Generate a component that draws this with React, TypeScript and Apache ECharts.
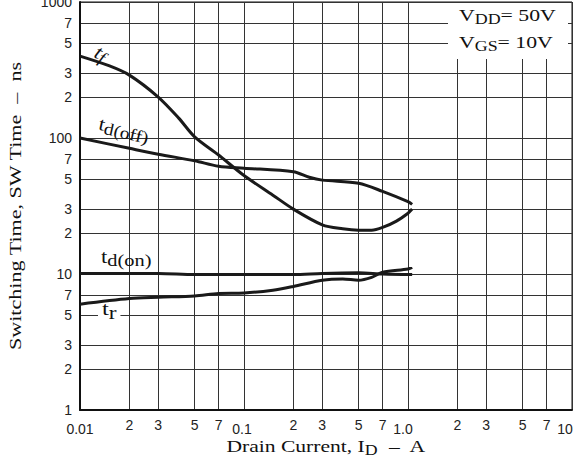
import React, { useEffect, useRef } from "react";
import * as echarts from "echarts";

const xTicks = [0.01, 0.02, 0.03, 0.05, 0.07, 0.1, 0.2, 0.3, 0.5, 0.7, 1, 2, 3, 5, 7, 10];
const yTicks = [1, 2, 3, 5, 7, 10, 20, 30, 50, 70, 100, 200, 300, 500, 700, 1000];
const xDecadeLabels: Record<string, string> = { "-2": "0.01", "-1": "0.1", "0": "1.0", "1": "10" };

const tfX = [0.01, 0.015, 0.02, 0.03, 0.04, 0.05, 0.07, 0.1, 0.15, 0.2, 0.3, 0.4, 0.5, 0.6, 0.7, 0.85, 1.0, 1.06];
const tfY = [400, 340, 290, 200, 140, 102, 75, 53, 38, 30, 23, 21.5, 21, 21, 22, 24.5, 28, 30];

const tdOffX = [0.01, 0.02, 0.03, 0.05, 0.07, 0.1, 0.2, 0.25, 0.3, 0.5, 0.7, 1.0, 1.06];
const tdOffY = [100, 84, 76, 68, 62, 60, 56.5, 51.4, 49, 46.5, 40.5, 34, 32.5];

const tdOnX = [0.01, 0.03, 0.05, 0.1, 0.2, 0.3, 0.5, 0.7, 1.06];
const tdOnY = [10.1, 10.1, 9.9, 9.9, 9.9, 10.1, 10.2, 10.0, 9.9];

const trX = [0.01, 0.02, 0.03, 0.05, 0.07, 0.1, 0.15, 0.2, 0.3, 0.4, 0.5, 0.6, 0.7, 1.0, 1.06];
const trY = [6.0, 6.6, 6.75, 6.9, 7.2, 7.25, 7.6, 8.1, 9.0, 9.2, 9.0, 9.45, 10.3, 10.9, 11.2];

const zip = (xs: number[], ys: number[]) => xs.map((x, i) => [x, ys[i]]);

const exp10 = (v: number) => Math.floor(Math.log10(v) + 1e-9);
const mant = (v: number) => Math.round(v / Math.pow(10, exp10(v)));

const SERIF = "Liberation Serif, Times New Roman, serif";
const SANS = "Liberation Sans, Arial, sans-serif";
const INK = "#111";

const subText = (
  x: number,
  y: number,
  main: string,
  sub: string,
  size: number,
  subSize: number,
  opts: any = {}
) => ({
  type: "text",
  z: opts.z ?? 11,
  x,
  y,
  rotation: opts.rotation ?? 0,
  scaleX: opts.scaleX ?? 1.2,
  style: {
    text: main + "{s|" + sub + "}" + (opts.after ?? ""),
    fontFamily: SERIF,
    fontSize: size,
    fontStyle: opts.italic ? "italic" : "normal",
    fill: INK,
    backgroundColor: opts.bg,
    padding: opts.padding,
    align: opts.align ?? "left",
    verticalAlign: opts.valign ?? "top",
    rich: {
      s: {
        fontFamily: SERIF,
        fontSize: subSize,
        fontStyle: opts.italic ? "italic" : "normal",
        fill: INK,
        padding: [opts.drop ?? 8, 0, 0, 0],
      },
    },
  },
});

// horizontal nudge (px to the left) of each decade label on the x axis
const decadeShift = [0, 2, 5, 7];

export default function App() {
  const ref = useRef<HTMLDivElement>(null);
  useEffect(() => {
    if (!ref.current) return;
    const chart = echarts.init(ref.current, undefined, { renderer: "svg" });
    const lineStyle = { color: "#1a1a1a", width: 3 };
    const mkSeries = (name: string, xs: number[], ys: number[]) => ({
      name,
      type: "line",
      data: zip(xs, ys),
      smooth: 0.3,
      showSymbol: false,
      symbol: "none",
      lineStyle,
      z: 5,
    });
    const richX: any = {};
    decadeShift.forEach((s, i) => {
      richX["d" + i] = { fontFamily: SANS, fontSize: 14, color: "#222", padding: [4, 0, 0, 0] };
      richX["g" + i] = { fontFamily: SANS, fontSize: 14, width: Math.max(1, s * 2), color: "rgba(0,0,0,0)" };
    });
    chart.setOption({
      animation: false,
      backgroundColor: "#ffffff",
      grid: {
        left: 80,
        right: 11,
        top: 2,
        bottom: 51,
        show: true,
        borderColor: INK,
        borderWidth: 1,
        backgroundColor: "transparent",
        outerBoundsMode: "none",
        containLabel: false,
      },
      xAxis: {
        type: "log",
        logBase: 10,
        min: 0.01,
        max: 10,
        axisLine: { show: true, lineStyle: { color: INK, width: 2 } },
        axisTick: { show: false, customValues: xTicks },
        axisLabel: {
          customValues: xTicks,
          margin: 8,
          fontFamily: SANS,
          fontSize: 14,
          color: "#222",
          formatter: (v: number) => {
            const m = mant(v);
            if (m === 1) {
              const e = exp10(v);
              const i = e + 2;
              const lbl = "{d" + i + "|" + xDecadeLabels[String(e)] + "}";
              return decadeShift[i] > 0 ? lbl + "{g" + i + "| }" : lbl;
            }
            return String(m);
          },
          rich: richX,
        },
        splitLine: { show: true, lineStyle: { color: "#333", width: 1 } },
      },
      yAxis: {
        type: "log",
        logBase: 10,
        min: 1,
        max: 1000,
        axisLine: { show: true, lineStyle: { color: INK, width: 2 } },
        axisTick: { show: false, customValues: yTicks },
        axisLabel: {
          customValues: yTicks,
          margin: 8,
          fontFamily: SANS,
          fontSize: 14,
          color: "#222",
          formatter: (v: number) => {
            const m = mant(v);
            if (m === 1) return String(Math.round(v));
            return String(m);
          },
        },
        splitLine: { show: true, lineStyle: { color: "#333", width: 1 } },
      },
      graphic: [
        {
          type: "text",
          z: 11,
          x: 326,
          y: 446,
          scaleX: 1.27,
          style: {
            text: "Drain Current, I{s|D}  –  A",
            fontFamily: SERIF,
            fontSize: 17,
            fill: INK,
            align: "center",
            verticalAlign: "middle",
            rich: { s: { fontFamily: SERIF, fontSize: 14, fill: INK, padding: [9, 0, 0, 0] } },
          },
        },
        {
          type: "text",
          z: 11,
          x: 15,
          y: 206,
          rotation: Math.PI / 2,
          scaleX: 1.3,
          style: {
            text: "Switching Time, SW Time  –  ns",
            fontFamily: SERIF,
            fontSize: 17,
            fill: INK,
            align: "center",
            verticalAlign: "middle",
          },
        },
        {
          type: "rect",
          z: 10,
          shape: { x: 448, y: 3, width: 120, height: 56 },
          style: { fill: "#fff" },
        },
        subText(459, 4, "V", "DD", 17, 14, { after: "= 50V", scaleX: 1.28 }),
        subText(459, 31, "V", "GS", 17, 14, { after: "= 10V", scaleX: 1.28 }),
        subText(101, 40, "t", "f", 20, 17, { italic: true, rotation: -0.45, scaleX: 1.1, drop: 7 }),
        subText(102, 111, "t", "d(off)", 19, 17, { rotation: -0.22, scaleX: 1.15 }),
        subText(101, 244, "t", "d(on)", 19, 17, { scaleX: 1.2 }),
        subText(98, 296, "t", "r", 19, 18, { scaleX: 1.3, bg: "#fff", padding: [0, 3, 0, 3], z: 3 }),
      ],
      series: [
        mkSeries("tf", tfX, tfY),
        mkSeries("td(off)", tdOffX, tdOffY),
        mkSeries("td(on)", tdOnX, tdOnY),
        mkSeries("tr", trX, trY),
      ],
    });
    return () => chart.dispose();
  }, []);
  return (
    <div
      ref={ref}
      style={{ position: "absolute", left: 0, top: 0, width: 583, height: 461 }}
    />
  );
}
